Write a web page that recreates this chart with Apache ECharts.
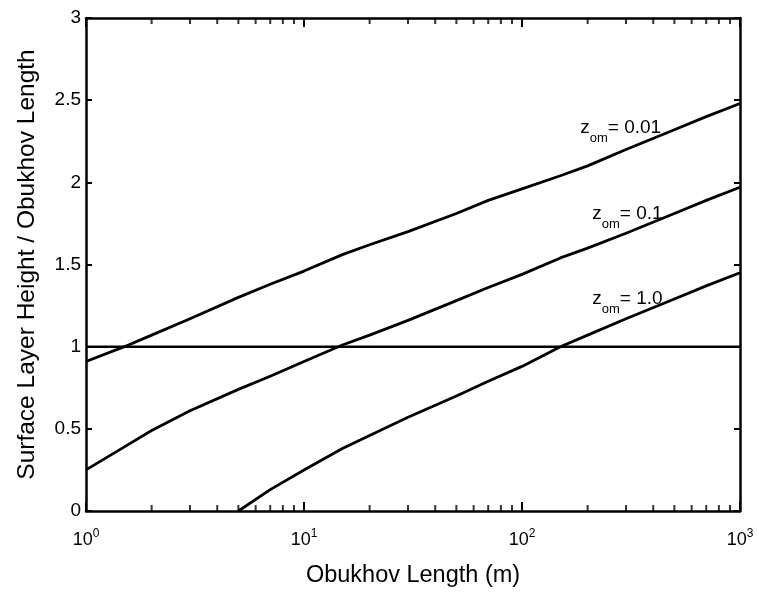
<!DOCTYPE html>
<html>
<head>
<meta charset="utf-8">
<script src="https://cdn.jsdelivr.net/npm/echarts@6/dist/echarts.min.js"></script>
<style>
html, body { margin: 0; padding: 0; background: #fff; }
#container { width: 757px; height: 594px; }
</style>
</head>
<body>
<div id="container"></div>
<script>
var dom = document.getElementById("container");
var myChart = echarts.init(dom);

// Obukhov length (m), x positions of the sampled points
var lengths = [1, 1.5, 2, 3, 5, 7, 10, 15, 20, 30, 50, 70, 100, 150, 200, 300, 500, 700, 1000];
// surface layer height / Obukhov length for each roughness length
var z001 = [0.91, 1.00, 1.07, 1.17, 1.30, 1.38, 1.46, 1.56, 1.62, 1.70, 1.81, 1.89, 1.96, 2.04, 2.10, 2.20, 2.32, 2.40, 2.48];
var z01  = [0.25, 0.39, 0.49, 0.61, 0.74, 0.82, 0.91, 1.01, 1.07, 1.16, 1.28, 1.36, 1.44, 1.54, 1.60, 1.69, 1.81, 1.89, 1.97];
var z10  = [null, null, null, null, 0.00, 0.13, 0.25, 0.38, 0.46, 0.57, 0.70, 0.79, 0.88, 1.00, 1.07, 1.17, 1.29, 1.37, 1.45];
var unity = [[1, 1], [1000, 1]];

// minor tick positions of the log axis
var minorTicks = [];
[1, 10, 100].forEach(function (d) {
    for (var k = 2; k <= 9; k++) minorTicks.push(d * k);
});

// where the curve labels sit, in data units
var labelPos = {
    '0.01': [185, 2.33],
    '0.1':  [210, 1.81],
    '1.0':  [210, 1.29]
};

function pairs(ys) {
    var out = [];
    for (var i = 0; i < lengths.length; i++) {
        if (ys[i] !== null) out.push([lengths[i], ys[i]]);
    }
    return out;
}

var fontFam = 'Liberation Sans, Arial, Helvetica, sans-serif';

function curve(name, ys) {
    return {
        name: name,
        type: 'line',
        data: pairs(ys),
        symbol: 'none',
        smooth: false,
        lineStyle: { color: '#000', width: 2.8, join: 'round' },
        markPoint: {
            symbol: 'circle',
            symbolSize: 0,
            data: [{ coord: labelPos[name] }],
            label: {
                show: true,
                position: 'right',
                distance: 0,
                formatter: '{z|z}{s|om}{v|= ' + name + '}',
                rich: {
                    z: { fontSize: 19, fontFamily: fontFam, color: '#000' },
                    s: { fontSize: 13, fontFamily: fontFam, color: '#000', padding: [21, 0, 0, 0] },
                    v: { fontSize: 19, fontFamily: fontFam, color: '#000' }
                }
            }
        }
    };
}

function tickMarks(yVal, offset) {
    return {
        type: 'scatter',
        data: minorTicks.map(function (x) { return [x, yVal]; }),
        symbol: 'rect',
        symbolSize: [2, 6],
        symbolOffset: [0, offset],
        itemStyle: { color: '#000' },
        clip: false,
        silent: true,
        z: 10
    };
}

function logAxis(pos, labels) {
    return {
        type: 'log',
        logBase: 10,
        min: 1,
        max: 1000,
        position: pos,
        axisLine: { show: true, onZero: false, lineStyle: { color: '#000', width: 2.5 } },
        axisTick: { show: true, inside: true, length: 9, lineStyle: { color: '#000', width: 2 } },
        splitLine: { show: false },
        axisLabel: labels
    };
}

var xBottom = logAxis('bottom', {
    show: true,
    margin: 17,
    color: '#000',
    formatter: function (v) {
        return '{b|10}{p|' + Math.round(Math.log10(v)) + '}';
    },
    rich: {
        b: { fontSize: 18, fontFamily: fontFam, color: '#000' },
        p: { fontSize: 12, fontFamily: fontFam, color: '#000', padding: [0, 0, 13, 0] }
    }
});
xBottom.name = 'Obukhov Length (m)';
xBottom.nameLocation = 'middle';
xBottom.nameGap = 53;
xBottom.nameTextStyle = { fontSize: 23.5, fontFamily: fontFam, color: '#000' };

function valAxis(pos) {
    return {
        type: 'value',
        min: 0,
        max: 3,
        interval: 0.5,
        position: pos,
        axisLine: { show: true, onZero: false, lineStyle: { color: '#000', width: 2.5 } },
        axisTick: { show: true, inside: true, length: 6, lineStyle: { color: '#000', width: 2 } },
        splitLine: { show: false },
        axisLabel: { show: false }
    };
}

var yLeft = valAxis('left');
yLeft.name = 'Surface Layer Height / Obukhov Length';
yLeft.nameLocation = 'middle';
yLeft.nameGap = 46;
yLeft.nameTextStyle = { fontSize: 24.5, fontFamily: fontFam, color: '#000' };
yLeft.axisLabel = { show: true, fontSize: 19, fontFamily: fontFam, color: '#000', margin: 5 };

var option = {
    backgroundColor: '#fff',
    animation: false,
    grid: { left: 86, right: 17, top: 18, bottom: 83 },
    xAxis: [xBottom, logAxis('top', { show: false })],
    yAxis: [yLeft, valAxis('right')],
    series: [
        curve('0.01', z001),
        curve('0.1', z01),
        curve('1.0', z10),
        {
            name: 'unity',
            type: 'line',
            data: unity,
            symbol: 'none',
            lineStyle: { color: '#000', width: 2.5 }
        },
        tickMarks(0, -3),
        tickMarks(3, 3)
    ]
};

myChart.setOption(option);
</script>
</body>
</html>
